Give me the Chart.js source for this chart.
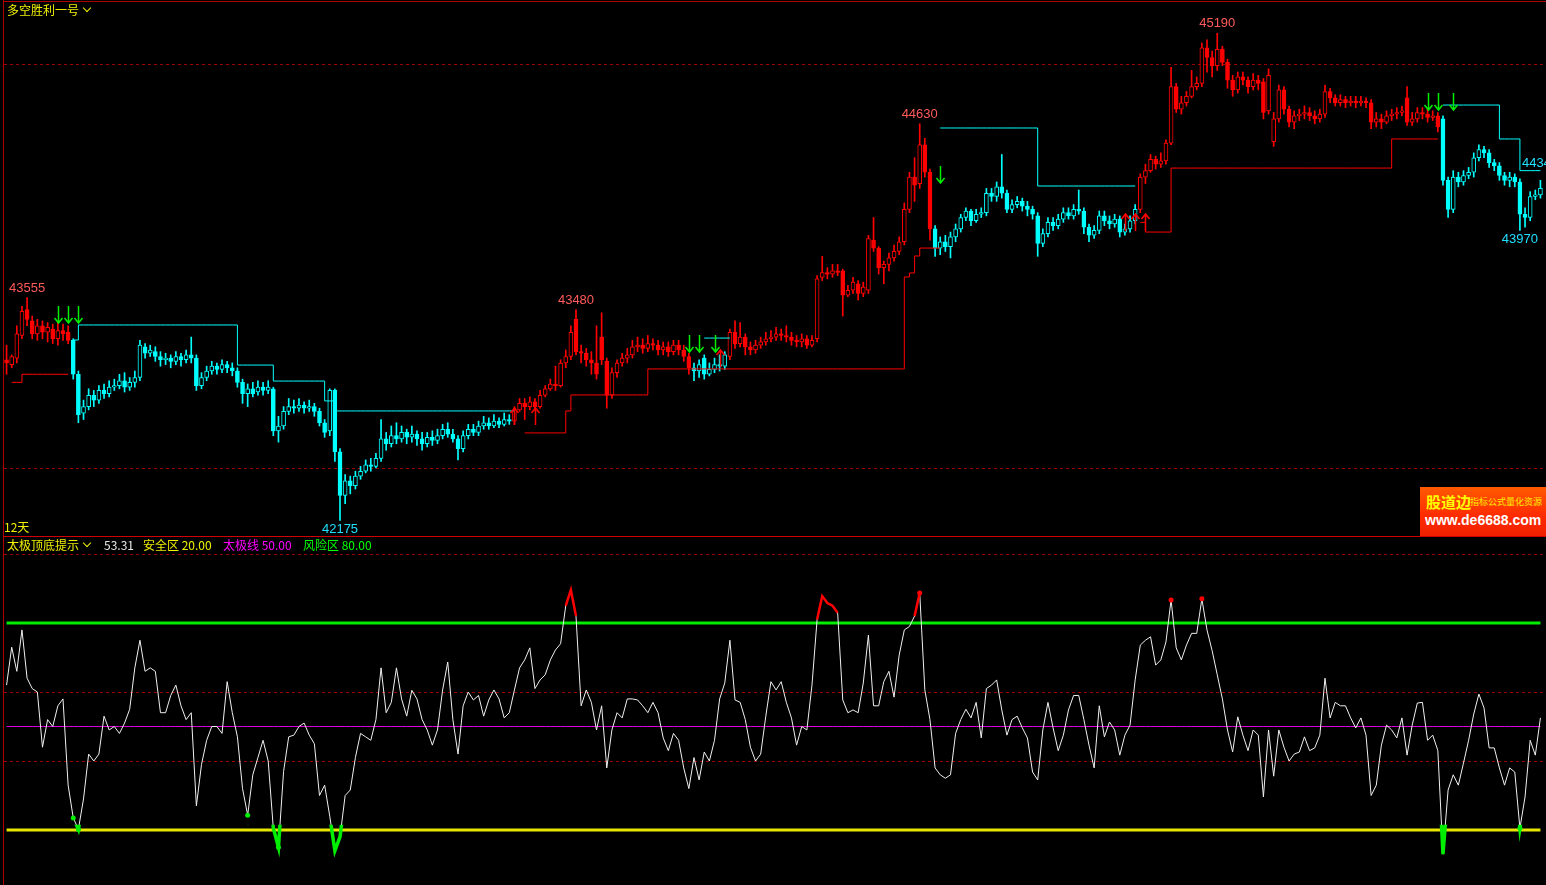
<!DOCTYPE html>
<html>
<head>
<meta charset="utf-8">
<script src="https://cdn.jsdelivr.net/npm/chart.js"></script>
<style>
  html, body { margin: 0; padding: 0; background: #000; }
  body { width: 1546px; height: 885px; position: relative; overflow: hidden;
         font-family: "Noto Sans CJK SC", "Noto Sans", sans-serif; font-size: 12px; }
  #topWrap { position: absolute; left: 0; top: 0; width: 1546px; height: 537px; }
  #botWrap { position: absolute; left: 0; top: 538px; width: 1546px; height: 347px; }
  .txt { position: absolute; line-height: 14px; white-space: nowrap; }
  .yel { color: #f0f000; }
  .chev { position: absolute; width: 5px; height: 5px; border-right: 1.5px solid #f0f000;
          border-bottom: 1.5px solid #f0f000; transform: rotate(45deg); }
  .frame { position: absolute; background: #b00000; }
  #logo { position: absolute; left: 1420px; top: 487px; width: 126px; height: 49px;
          background: linear-gradient(#ff5a00, #ff2a00 60%, #f02000); overflow: hidden; }
</style>
</head>
<body>
<div id="topWrap"><canvas id="topChart"></canvas></div>
<div id="botWrap"><canvas id="botChart"></canvas></div>

<div class="frame" style="left:3px;top:0;width:1px;height:885px"></div>
<div class="frame" style="left:3px;top:1px;width:1543px;height:1px"></div>
<div class="frame" style="left:3px;top:536px;width:1543px;height:1px;background:#d00000"></div>

<div class="txt yel" style="left:7px;top:3px">多空胜利一号</div>
<div class="chev" style="left:84px;top:5px"></div>
<div class="txt yel" style="left:4px;top:520px">12天</div>

<div class="txt yel" style="left:7px;top:538px">太极顶底提示</div>
<div class="chev" style="left:84px;top:540px"></div>
<div class="txt" style="left:104px;top:538px;color:#e8e8e8">53.31</div>
<div class="txt yel" style="left:143px;top:538px">安全区 20.00</div>
<div class="txt" style="left:223px;top:538px;color:#ff00ff">太极线 50.00</div>
<div class="txt" style="left:303px;top:538px;color:#00ff00">风险区 80.00</div>

<div id="logo">
  <div class="txt" style="left:6px;top:6px;color:#ffff00;font-weight:bold;font-size:15px;line-height:17px">股道边</div>
  <div class="txt" style="left:50px;top:9px;color:#ffee00;font-size:9px;line-height:11px">指标公式量化资源</div>
  <div class="txt" style="left:5px;top:25px;color:#fff;font-weight:bold;font-size:14px;line-height:16px;font-family:'Liberation Sans',sans-serif">www.de6688.com</div>
</div>

<script>
// ---- price bars ----
const open = [
  43170,43140,43180,43320,43480,43410,43330,43380,43340,43360,43300,43350,43340,
  43290,43080,42840,42880,42950,42920,42980,42960,43000,43010,43040,43000,
  43030,43060,43250,43210,43220,43190,43170,43180,43160,43190,43170,43200,
  43180,43010,43060,43100,43130,43110,43140,43120,43100,43030,42960,42990,
  42970,43000,42980,42990,42730,42760,42850,42880,42870,42890,42870,42880,
  42850,42780,42730,42980,42600,42330,42420,42390,42450,42480,42520,42510,
  42560,42680,42650,42700,42680,42720,42690,42710,42680,42650,42690,42670,
  42700,42740,42710,42680,42620,42700,42740,42720,42760,42780,42760,42790,42770,42800,
  42790,42860,42900,42880,42910,42880,42950,42990,43020,43010,43150,43190,
  43420,43220,43210,43170,43150,43310,43160,42950,43090,43150,43180,43200,
  43250,43260,43240,43270,43260,43230,43250,43220,43260,43230,43190,
  43120,43100,43180,43080,43110,43140,43130,
  43190,43340,43270,43310,43250,43230,43260,43280,43300,43310,43330,43320,43310,43290,43280,43300,43260,
  43300,43680,43710,43700,43720,43720,43570,43600,43640,43580,43600,43910,43860,43740,43760,43800,43840,43900,44100,44300,44260,44500,44330,
  43980,43860,43900,43870,43930,43980,44050,44090,44030,44070,44080,44200,44180,44240,44200,44100,44130,44150,44120,44100,
  44060,43890,43950,44020,44000,44040,44080,44060,44100,44090,43990,43940,43970,44060,44030,44010,44040,43960,43980,44030,
  44100,44300,44340,44410,44380,44400,44510,44860,44720,44760,44800,44860,44880,45100,45040,44990,45090,45010,44900,44840,44920,44900,44860,44900,44890,44710,
  44520,44660,44840,44720,44640,44680,44690,44700,44680,44660,44690,44830,44790,44760,44780,44760,44770,44760,44770,44760,44640,44660,44640,44680,44690,44700,44790,44640,44660,44700,44690,44670,44680,
  44660,44280,44100,44300,44270,44310,44330,44420,44470,44450,44390,44370,44310,44280,44300,44270,44070,44050,44180,44190
];
const close = [
  43150,43190,43330,43470,43420,43330,43380,43340,43370,43300,43350,43330,43290,
  43080,42830,42880,42950,42920,42980,42960,43000,43010,43040,43000,43030,
  43060,43260,43210,43230,43190,43170,43180,43160,43190,43170,43200,43180,
  43010,43060,43100,43130,43110,43140,43120,43100,43030,42960,42990,42960,
  43000,42980,43000,42730,42760,42850,42880,42870,42890,42870,42880,42850,
  42780,42720,42980,42600,42330,42420,42390,42450,42480,42520,42510,42560,
  42680,42650,42700,42680,42720,42690,42710,42680,42650,42690,42670,42700,
  42740,42710,42680,42620,42700,42740,42720,42760,42780,42760,42790,42770,42800,42790,
  42860,42900,42880,42910,42880,42950,42990,43020,43010,43150,43190,43340,
  43220,43210,43170,43150,43080,43170,42950,43090,43150,43180,43200,43250,
  43260,43240,43270,43260,43230,43250,43220,43260,43230,43190,43120,
  43100,43140,43080,43110,43140,43130,43200,
  43340,43270,43310,43250,43230,43260,43280,43300,43310,43330,43320,43310,43290,43280,43300,43260,43290,
  43670,43710,43700,43720,43710,43570,43600,43650,43580,43620,43920,43860,43740,43760,43800,43840,43900,44100,44300,44250,44500,44330,43980,
  43860,43900,43870,43930,43980,44050,44090,44030,44070,44080,44200,44180,44240,44200,44100,44130,44150,44120,44100,44070,
  43890,43950,44020,44000,44040,44080,44060,44100,44090,43990,43940,43970,44060,44030,44010,44040,43960,43980,44030,44100,
  44300,44340,44410,44380,44400,44510,44860,44720,44760,44800,44860,44880,45100,45040,44990,45090,45010,44900,44840,44920,44900,44860,44900,44880,44700,44930,
  44660,44840,44720,44640,44680,44690,44700,44680,44660,44690,44830,44790,44760,44780,44760,44770,44760,44770,44760,44640,44660,44640,44680,44690,44700,44710,44640,44660,44700,44690,44670,44680,44610,
  44280,44100,44300,44270,44310,44330,44420,44470,44450,44390,44370,44310,44280,44300,44270,44070,44050,44180,44190,44230
];
const high = [
  43260,43200,43380,43500,43555,43440,43420,43410,43400,43390,43400,43390,43380,
  43300,43100,42920,42990,42980,43010,43020,43040,43050,43080,43090,43060,
  43100,43290,43270,43260,43250,43220,43210,43200,43220,43210,43230,43310,
  43200,43090,43130,43160,43150,43170,43160,43150,43120,43050,43020,43030,
  43040,43030,43040,43000,42820,42880,42930,42920,42930,42910,42920,42900,
  42870,42800,42990,42990,42620,42460,42450,42480,42510,42550,42560,42590,
  42800,42720,42760,42780,42760,42740,42760,42730,42720,42720,42730,42740,
  42770,42780,42740,42700,42730,42770,42770,42790,42820,42810,42830,42810,42840,42830,
  42880,42930,42930,42940,42930,42980,43010,43050,43130,43170,43230,43380,
  43480,43260,43240,43220,43380,43460,43180,43120,43170,43210,43240,43290,
  43310,43300,43320,43300,43290,43280,43280,43290,43290,43260,43210,
  43150,43170,43200,43150,43180,43200,43220,
  43360,43410,43400,43330,43280,43290,43310,43340,43350,43370,43360,43380,43340,43320,43330,43320,43320,
  43690,43810,43740,43760,43760,43730,43630,43680,43660,43650,43940,44050,43870,43780,43830,43880,43930,44140,44330,44420,44630,44540,44350,
  44000,43930,43940,43960,44010,44070,44110,44100,44100,44110,44230,44230,44270,44440,44220,44160,44180,44170,44150,44120,
  44080,43980,44050,44050,44070,44110,44110,44130,44220,44110,44010,44000,44090,44090,44060,44070,44060,44010,44060,44130,
  44320,44380,44440,44430,44450,44530,44980,44880,44800,44830,44960,44920,45130,45150,45080,45190,45110,45030,44930,44950,44950,44920,44940,44930,44910,44970,
  44700,44870,44860,44740,44710,44720,44740,44730,44710,44720,44870,44850,44810,44810,44800,44800,44800,44800,44790,44780,44700,44690,44710,44720,44730,44740,44860,44700,44730,44730,44720,44710,44700,
  44680,44300,44340,44330,44340,44360,44450,44500,44490,44470,44410,44390,44330,44330,44320,44290,44110,44210,44220,44280
];
const low = [
  43080,43120,43150,43300,43380,43300,43290,43300,43280,43270,43260,43290,43270,
  43050,42780,42800,42860,42880,42900,42930,42940,42980,42990,42970,42980,
  43000,43040,43180,43190,43160,43130,43140,43120,43140,43130,43150,43150,
  42980,42990,43040,43080,43080,43090,43090,43070,43000,42900,42880,42940,
  42950,42950,42960,42700,42660,42740,42830,42840,42850,42840,42850,42820,
  42760,42690,42700,42540,42175,42280,42340,42370,42430,42470,42480,42500,
  42540,42610,42630,42650,42660,42650,42660,42640,42610,42630,42640,42650,
  42680,42690,42660,42550,42600,42680,42700,42700,42740,42740,42750,42750,42760,42770,
  42770,42850,42800,42860,42860,42870,42940,42980,42980,43000,43120,43170,
  43200,43150,43130,43080,43050,43140,42870,42930,43060,43130,43150,43180,
  43220,43210,43220,43230,43200,43200,43190,43200,43200,43160,43080,
  43040,43060,43050,43070,43090,43100,43110,
  43170,43240,43250,43200,43200,43210,43240,43260,43280,43290,43290,43280,43260,43250,43250,43240,43250,
  43280,43660,43670,43680,43690,43440,43560,43580,43540,43560,43580,43840,43700,43640,43720,43780,43820,43880,44080,44150,44230,44300,43910,
  43810,43820,43840,43800,43900,43960,44030,44000,44020,44050,44060,44150,44150,44170,44080,44080,44110,44090,44060,44040,
  43810,43870,43930,43970,43980,44020,44040,44040,44070,43950,43900,43920,43950,44000,43980,43990,43930,43940,43960,44010,
  44080,44260,44330,44350,44360,44380,44500,44700,44690,44740,44790,44840,44860,44950,44920,44960,44990,44850,44800,44820,44870,44820,44840,44840,44660,44690,
  44490,44640,44690,44610,44600,44650,44660,44650,44630,44640,44670,44760,44740,44740,44730,44740,44730,44740,44730,44600,44610,44600,44630,44650,44660,44680,44620,44620,44640,44660,44640,44650,44580,
  44250,44050,44080,44240,44250,44290,44300,44400,44420,44360,44340,44280,44250,44240,44240,43970,43990,44030,44160,44170
];

// bars drawn red (long) – the rest are cyan (short)
const redSpans = [[0, 12], [99, 133], [141, 180], [221, 279]];

// stepped stop lines: [fromBar, toBar, price]
const supportSegs = [
  [1, 3, 43030], [3, 12, 43080],
  [101, 109, 42717], [109, 110, 42853], [110, 125, 42952], [125, 175, 43113],
  [175, 176, 43682], [176, 177, 43707], [177, 178, 43812], [178, 182, 43861],
  [221, 222, 44020], [222, 227, 43960], [227, 270, 44356], [270, 279, 44536]
];
const resistSegs = [
  [13, 14, 43292], [14, 45, 43385], [45, 52, 43137], [52, 62, 43038], [62, 64, 42915], [64, 99, 42853],
  [136, 141, 43304],
  [182, 201, 44604], [201, 220, 44245],
  [280, 291, 44746], [291, 295, 44536], [295, 299, 44340]
];

// signal arrows: [bar, tip price]
const sellArrows = [[10, 43397], [12, 43397], [14, 43397], [133, 43218], [135, 43218], [138, 43218],
                    [182, 44264], [277, 44715], [279, 44715], [282, 44715]];
const buyArrows = [[99, 42871], [103, 42871], [139, 43230], [218, 44072], [220, 44072], [222, 44072]];

const highMarks = [4, 111, 178, 236];
const lowMarks = [65, 295];
const priceGrid = [45000, 42500];

// ---- oscillator ----
const osc = [
  62,73,66,78,64,61,60,44,52,50,
  56,58,33,23.5,20.2,29,42,40,42,53,
  49,50,48,51,55,67,75,66,67,66,
  54,54,59,62,56,52,54,27,39,46,
  50,50,48,63,54,47,32,24.3,36,41,
  46,40,20.5,15,37,47,47.5,50,51,47.5,
  45,30,33,24,14,18,30,31.6,41,48,
  47,46,52,67,54,57,67,58,53,60.5,
  58,52,49,44.6,49,60.6,68.7,52,42,56,
  60,57.7,59,53,57.7,60.6,58,52.5,54,60.6,
  67,69.3,72.8,61,63.5,65,69.3,72.2,74,85,
  89.6,82,56,60.6,57,49,56,38,49,54,
  52.5,58,58,57.7,56,54,57,54,46.7,43,
  48,46,38,32,41,34.5,42.6,40,46,58,
  62.6,75,57.7,57,52,44,40,42,53,63,
  60.6,63,57,52.5,44.6,50,49,62,81,87.8,
  85.8,85,83,57.7,54,54.8,54,62.6,76.5,56,
  56,63,66,58.5,70.7,78,79,82,88.7,60.6,
  52,38,36,35,36,48,52,55,52.5,57,
  46.7,61,62,63.5,54.8,47.5,52,53,49.6,46.7,
  36.8,34.5,49,57,49.6,43,47.5,54.8,59,59,
  52,44.6,38,56,47,51.3,49,41.7,47.5,50.4,
  63.5,73.6,75,76,67.8,69.3,74.5,86.7,72.8,69.3,
  73.6,77,77,87,78,72,65,58,49,42.6,
  52.8,47.5,43,49,47.5,29.6,49,35.6,49,44,
  40,42,42.6,47,43,43.8,47.5,64,52.5,57,
  56,56,52.5,49.6,52.5,47.5,30,33,44.6,50.4,
  49,46.7,52.5,41.7,50.4,56.8,57,46,47.5,43,
  13,31.6,36,33,39.4,46,53.6,59.4,55.4,43.8,
  43.8,38,33,38,36.8,20.5,29.6,46,41.7,52.5
];
const topDots = [178, 227, 233];
const bottomDots = [13, 14, 47, 53, 295];
const safeLevel = 20, taijiLevel = 50, riskLevel = 80;
const oscGrid = [40, 60, 100];

// ------------------------------------------------------------
const N = close.length;
const labels = close.map((_, i) => i);

function isRed(i) {
  return redSpans.some(s => i >= s[0] && i <= s[1]);
}
function barColor(i) {
  return isRed(i) ? "#ff0000" : "#00ffff";
}
function stepLine(segs) {
  const arr = new Array(N).fill(null);
  segs.forEach(([a, b, v]) => { for (let i = a; i <= b; i++) arr[i] = v; });
  return arr;
}

function dashLines(values) {
  return {
    id: "dashLines",
    beforeDatasetsDraw(chart) {
      const { ctx, chartArea, scales } = chart;
      ctx.save();
      ctx.strokeStyle = "#a00000";
      ctx.lineWidth = 1;
      ctx.setLineDash([3, 3]);
      values.forEach(v => {
        const y = Math.round(scales.y.getPixelForValue(v)) + 0.5;
        ctx.beginPath();
        ctx.moveTo(chartArea.left, y);
        ctx.lineTo(chartArea.right, y);
        ctx.stroke();
      });
      ctx.restore();
    }
  };
}

// thick green copy of the oscillator, cut to the part under the safe line
const zoneClip = {
  id: "zoneClip",
  beforeDatasetDraw(chart, args) {
    const ds = chart.data.datasets[args.index];
    if (!ds.zone) return;
    const { ctx, chartArea, scales } = chart;
    const y = scales.y.getPixelForValue(safeLevel + 1.5);
    ctx.save();
    ctx.beginPath();
    ctx.rect(chartArea.left, y, chartArea.width, chartArea.bottom - y);
    ctx.clip();
  },
  afterDatasetDraw(chart, args) {
    if (chart.data.datasets[args.index].zone) chart.ctx.restore();
  }
};

function arrow(ctx, x, tipY, dir, color) {
  ctx.strokeStyle = color;
  ctx.lineWidth = 1.5;
  ctx.beginPath();
  ctx.moveTo(x, tipY - dir * 17);
  ctx.lineTo(x, tipY);
  ctx.moveTo(x - 4, tipY - dir * 5);
  ctx.lineTo(x, tipY);
  ctx.lineTo(x + 4, tipY - dir * 5);
  ctx.stroke();
}

const marksPlugin = {
  id: "marks",
  afterDatasetsDraw(chart) {
    const { ctx, scales } = chart;
    const xs = scales.x, ys = scales.y;
    ctx.save();
    sellArrows.forEach(([i, p]) => arrow(ctx, Math.round(xs.getPixelForValue(i)) + 0.5, ys.getPixelForValue(p), 1, "#00ee00"));
    buyArrows.forEach(([i, p]) => arrow(ctx, Math.round(xs.getPixelForValue(i)) + 0.5, ys.getPixelForValue(p), -1, "#ff0000"));

    ctx.font = '13px "Liberation Sans", sans-serif';
    ctx.textAlign = "center";
    ctx.fillStyle = "#ff5a5a";
    ctx.textBaseline = "bottom";
    highMarks.forEach(i => ctx.fillText(String(high[i]), xs.getPixelForValue(i), ys.getPixelForValue(high[i]) - 3));
    ctx.fillStyle = "#20e0ff";
    ctx.textBaseline = "top";
    lowMarks.forEach(i => ctx.fillText(String(low[i]), xs.getPixelForValue(i), ys.getPixelForValue(low[i]) + 2));

    // last value of the stop line, at the right edge
    const last = resistSegs[resistSegs.length - 1];
    ctx.textAlign = "left";
    ctx.textBaseline = "bottom";
    ctx.fillText(String(last[2]), xs.getPixelForValue(last[0]) + 2, ys.getPixelForValue(last[2]) - 1);
    ctx.restore();
  }
};

new Chart(document.getElementById("topChart"), {
  type: "bar",
  data: {
    labels: labels,
    datasets: [
      {
        type: "line",
        data: stepLine(supportSegs),
        borderColor: "#ff0000",
        borderWidth: 1,
        pointRadius: 0,
        stepped: true,
        order: 0
      },
      {
        type: "line",
        data: stepLine(resistSegs),
        borderColor: "#00ffff",
        borderWidth: 1,
        pointRadius: 0,
        stepped: true,
        order: 0
      },
      {
        data: open.map((o, i) => [o, close[i]]),
        backgroundColor: c => close[c.dataIndex] > open[c.dataIndex] ? "#000000" : barColor(c.dataIndex),
        borderColor: c => barColor(c.dataIndex),
        borderWidth: 1,
        borderSkipped: false,
        barThickness: 4,
        minBarLength: 1,
        grouped: false,
        order: 1
      },
      {
        data: low.map((l, i) => [l, high[i]]),
        backgroundColor: c => barColor(c.dataIndex),
        barThickness: 1,
        grouped: false,
        order: 2
      }
    ]
  },
  options: {
    responsive: true,
    maintainAspectRatio: false,
    devicePixelRatio: 1,
    animation: false,
    events: [],
    layout: { padding: { left: 4, right: 3, top: 0, bottom: 0 } },
    plugins: { legend: { display: false }, tooltip: { enabled: false } },
    scales: {
      x: { display: false, offset: true },
      y: { display: false, min: 42073, max: 45396 }
    }
  },
  plugins: [dashLines(priceGrid), marksPlugin]
});

new Chart(document.getElementById("botChart"), {
  type: "line",
  data: {
    labels: labels,
    datasets: [
      {
        // red where two bars in a row stay above the risk line
        data: osc,
        borderWidth: 2.5,
        pointRadius: 0,
        tension: 0,
        segment: {
          borderColor: s => (s.p0.parsed.y > riskLevel && s.p1.parsed.y > riskLevel) ? "#ff0000" : "rgba(0,0,0,0)"
        },
        order: -1
      },
      {
        data: osc,
        zone: "low",
        borderColor: "#00ee00",
        borderWidth: 3.5,
        pointRadius: 0,
        tension: 0,
        order: -1
      },
      {
        data: osc,
        borderColor: "#f0f0f0",
        borderWidth: 1,
        tension: 0,
        pointRadius: c => (topDots.includes(c.dataIndex) || bottomDots.includes(c.dataIndex)) ? 2.5 : 0,
        pointBackgroundColor: c => topDots.includes(c.dataIndex) ? "#ff0000" : "#00ee00",
        pointBorderWidth: 0,
        order: 0
      },
      {
        data: labels.map(() => riskLevel),
        borderColor: "#00ee00",
        borderWidth: 3,
        pointRadius: 0,
        order: 1
      },
      {
        data: labels.map(() => safeLevel),
        borderColor: "#e6e600",
        borderWidth: 3,
        pointRadius: 0,
        order: 1
      },
      {
        data: labels.map(() => taijiLevel),
        borderColor: "#e000e0",
        borderWidth: 1,
        pointRadius: 0,
        order: 2
      }
    ]
  },
  options: {
    responsive: true,
    maintainAspectRatio: false,
    devicePixelRatio: 1,
    animation: false,
    events: [],
    layout: { padding: { left: 4, right: 3, top: 0, bottom: 0 } },
    plugins: { legend: { display: false }, tooltip: { enabled: false } },
    scales: {
      x: { display: false, offset: true },
      y: { display: false, min: 4.06, max: 104.64 }
    }
  },
  plugins: [dashLines(oscGrid), zoneClip]
});
</script>
</body>
</html>
